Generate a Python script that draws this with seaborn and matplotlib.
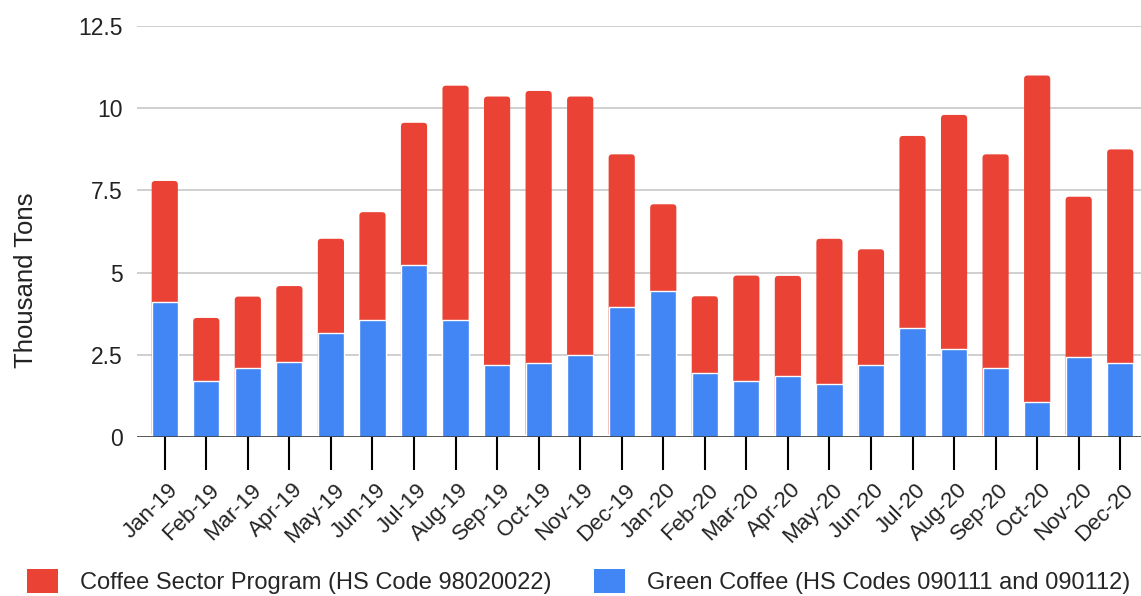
import matplotlib
matplotlib.use("Agg")
import matplotlib.pyplot as plt
import matplotlib.transforms as mtransforms
import seaborn as sns
import pandas as pd
from matplotlib.patches import Patch, FancyBboxPatch

months = ["Jan-19", "Feb-19", "Mar-19", "Apr-19", "May-19", "Jun-19", "Jul-19", "Aug-19",
          "Sep-19", "Oct-19", "Nov-19", "Dec-19", "Jan-20", "Feb-20", "Mar-20", "Apr-20",
          "May-20", "Jun-20", "Jul-20", "Aug-20", "Sep-20", "Oct-20", "Nov-20", "Dec-20"]
green_coffee = [4.10, 1.71, 2.11, 2.27, 3.16, 3.55, 5.23, 3.55, 2.18, 2.26, 2.49, 3.95,
                4.43, 1.94, 1.70, 1.86, 1.62, 2.18, 3.30, 2.66, 2.11, 1.05, 2.42, 2.26]
coffee_sector = [3.69, 1.91, 2.16, 2.32, 2.87, 3.29, 4.33, 7.14, 8.18, 8.27, 7.87, 4.65,
                 2.65, 2.34, 3.21, 3.04, 4.41, 3.53, 5.86, 7.14, 6.49, 9.95, 4.89, 6.49]
y_ticks = [0, 2.5, 5, 7.5, 10, 12.5]
y_tick_labels = ["0", "2.5", "5", "7.5", "10", "12.5"]

RED = "#EA4335"
BLUE = "#4285F4"
red_label = "Coffee Sector Program (HS Code 98020022)"
blue_label = "Green Coffee (HS Codes 090111 and 090112)"

df = pd.DataFrame({"month": months, "green": green_coffee, "sector": coffee_sector})
df["total"] = df["green"] + df["sector"]

sns.set_theme(style="white")
plt.rcParams["font.family"] = ["Liberation Sans", "DejaVu Sans"]

fig = plt.figure(figsize=(11.41, 5.96), dpi=100)
ax = fig.add_axes([0.120, 0.267, 0.880, 0.689])

sns.barplot(data=df, x="month", y="total", color=RED, width=0.63, saturation=1,
            ax=ax, order=months)
ax.set_ylim(0, 12.5)
ax.set_xlim(-0.67, 23.5)

# round the top corners of the stacked (red) bars
x_px = ax.get_position().width * fig.get_figwidth() * fig.dpi / (23.5 + 0.67)
y_px = ax.get_position().height * fig.get_figheight() * fig.dpi / 12.5
radius_px = 3.5
for p in list(ax.patches):
    x0, w, h = p.get_x(), p.get_width(), p.get_height()
    fb = FancyBboxPatch((x0, 0), w, h,
                        boxstyle=f"round,pad=0,rounding_size={radius_px / x_px}",
                        mutation_aspect=x_px / y_px,
                        facecolor=RED, edgecolor="none", zorder=p.get_zorder())
    p.remove()
    ax.add_patch(fb)

sns.barplot(data=df, x="month", y="green", color=BLUE, width=0.63, saturation=1,
            ax=ax, order=months)

ax.set_ylim(0, 12.5)
ax.set_xlim(-0.67, 23.5)
ax.set_yticks(y_ticks)
ax.set_yticklabels(y_tick_labels, fontsize=16.5, color="#222222")
ax.yaxis.grid(True, color="#cccccc", linewidth=1.3)
ax.set_axisbelow(True)
for s in ["top", "right", "left", "bottom"]:
    ax.spines[s].set_visible(False)
ax.axhline(0, color="#333333", linewidth=1.8, zorder=5)
ax.tick_params(axis="y", left=False, length=0, pad=10)
ax.tick_params(axis="x", bottom=True, length=24, width=1.5, color="black", pad=12,
               direction="out")
ax.set_xticks(range(len(months)))
ax.set_xticklabels(months, rotation=45, ha="right", va="center", rotation_mode="anchor",
                   fontsize=16, color="#222222")
offset = mtransforms.ScaledTranslation(10 / 100, 0, fig.dpi_scale_trans)
for lab in ax.get_xticklabels():
    lab.set_transform(lab.get_transform() + offset)
ax.set_xlabel("")
ax.set_ylabel("Thousand Tons", fontsize=18.5, color="#222222")
ax.yaxis.set_label_coords(-0.099, 0.382)

handles = [Patch(facecolor=RED, edgecolor="none", label=red_label),
           Patch(facecolor=BLUE, edgecolor="none", label=blue_label)]
fig.legend(handles=handles, loc="center left", bbox_to_anchor=(0.024, 0.024), ncol=2,
           frameon=False, fontsize=17, handlelength=1.3, handleheight=1.2,
           columnspacing=1.8, handletextpad=0.93, borderpad=0, borderaxespad=0)

fig.savefig("out.png", dpi=100)
